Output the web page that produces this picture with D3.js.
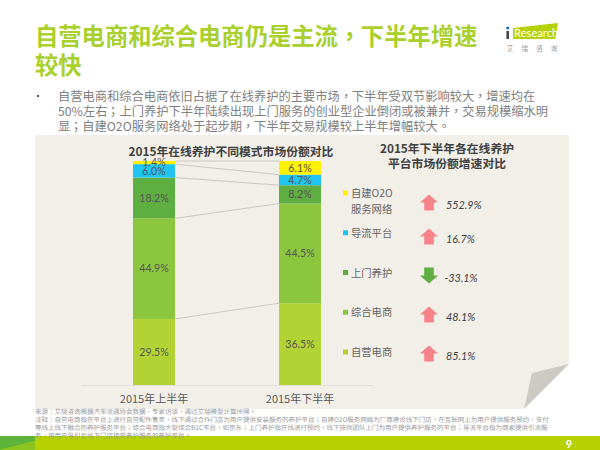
<!DOCTYPE html>
<html><head><meta charset="utf-8">
<script src="https://cdn.jsdelivr.net/npm/d3@7"></script>
<style>
@font-face{font-family:"Punct";font-weight:400;src:local("Noto Sans CJK TC"),local("Noto Sans CJK TC Regular");unicode-range:U+FF0C,U+FF1B,U+3001,U+3002,U+FF1A}
@font-face{font-family:"Punct";font-weight:700;src:local("Noto Sans CJK TC Bold");unicode-range:U+FF0C,U+FF1B,U+3001,U+3002,U+FF1A}
html,body{margin:0;padding:0;background:#fff;overflow:hidden}
svg{display:block}
text{font-family:"Punct","Noto Sans CJK SC","Noto Sans",sans-serif}
.num{font-family:Lato,"Noto Sans CJK SC",sans-serif}
.note{text-rendering:geometricPrecision}
</style></head><body>
<svg id="c" width="600" height="450"></svg>
<script>
const periods = ["2015年上半年","2015年下半年"];
const seriesNames = ["自营电商","综合电商","上门养护","导流平台","自建O2O"];
const h1Values = [29.5,44.9,18.2,6.0,1.4];
const h2Values = [36.5,44.5,8.2,4.7,6.1];
const seriesColors = ["#b3d335","#8cc63f","#5fae42","#1fc5f0","#fff200"];
const legendLines = [["自营电商"],["综合电商"],["上门养护"],["导流平台"],["自建O2O","服务网络"]];
const growth = [85.1,48.1,-33.1,16.7,552.9];
const titleLines = ["自营电商和综合电商仍是主流，下半年增速","较快"];
const bodyLines = ["自营电商和综合电商依旧占据了在线养护的主要市场，下半年受双节影响较大，增速均在",
"50%左右；上门养护下半年陆续出现上门服务的创业型企业倒闭或被兼并，交易规模缩水明",
"显；自建O2O服务网络处于起步期，下半年交易规模较上半年增幅较大。"];
const chartTitle = "2015年在线养护不同模式市场份额对比";
const sideTitle = ["2015年下半年各在线养护","平台市场份额增速对比"];
const noteLines = ["来源：艾瑞咨询根据汽车流通协会数据、专家访谈，通过艾瑞模型计算所得。",
"注释：自营电商指在平台上进行自营配件售卖，线下通过合作门店为用户提供安装服务的养护平台；自建O2O服务网络为厂商建设线下门店，在互联网上为用户提供服务预约、支付",
"等线上线下融合的养护服务平台；综合电商指大型综合B2C平台，如京东；上门养护指在线进行预约，线下技师团队上门为用户提供养护服务的平台；导流平台指为商家提供引流服",
"务，将用户导引至线下门店接受养护服务的养护平台。"];

const svg = d3.select("#c");
const lime = "#b5d200";

// footer
svg.append("rect").attr("x",0).attr("y",436).attr("width",600).attr("height",14).attr("fill",lime);
svg.append("path").attr("d","M0 436L35 436L35 441L0 450Z").attr("fill","#5db43a");
svg.append("path").attr("d","M0 450L35 441L35 450Z").attr("fill","#8cc520");
svg.append("text").attr("x",569).attr("y",447.5).attr("text-anchor","middle").attr("font-size",11).attr("font-weight",700).attr("fill","#fff").attr("class","num").text("9");

// panel with folded corner
svg.append("path").attr("d","M35 135H569V364L524 409H35Z").attr("fill","#f2efe9");
svg.append("path").attr("d","M569 364L532 373L524 409Z").attr("fill","#cdcac3");

// heading
svg.selectAll(".ttl").data(titleLines).join("text").attr("class","ttl")
  .attr("x",35).attr("y",(d,i)=>45+i*28.5).attr("font-size",23.3).attr("font-weight",700).attr("fill","#a9d02c").text(d=>d);

// logo
svg.append("path").attr("d","M513 28L558 23L555 39L513 39Z").attr("fill","#b5d200");
svg.append("rect").attr("x",506.5).attr("y",31).attr("width",2.4).attr("height",8).attr("fill","#3a3a3a");
svg.append("circle").attr("cx",507.7).attr("cy",28).attr("r",1.6).attr("fill","#1f6fb5");
svg.append("text").attr("x",514).attr("y",37).attr("font-size",11.2).attr("fill","#fff").style("font-family","Lato,sans-serif").text("Research");
["艾","瑞","咨","询"].forEach((c,i)=>svg.append("text").attr("x",510+i*14.7).attr("y",51).attr("text-anchor","middle").attr("font-size",6.5).attr("fill","#999").text(c));

// body
svg.append("circle").attr("cx",38).attr("cy",96).attr("r",1.3).attr("fill","#666");
svg.selectAll(".body").data(bodyLines).join("text").attr("class","body")
  .attr("x",58).attr("y",(d,i)=>100.5+i*15).attr("font-size",12.25).attr("fill","#808080").text(d=>d);

// stacked bars
const x = d3.scaleBand().domain(periods).range([81,373]).paddingInner(0.712).paddingOuter(0.356);
const y = d3.scaleLinear().domain([0,100]).range([385,161]);
const rows = periods.map((p,i)=>{
  const r={period:p};
  seriesNames.forEach((s,j)=>r[s]=(i?h2Values:h1Values)[j]);
  return r;
});
const stacked = d3.stack().keys(seriesNames)(rows);

// connectors
const conn = d3.line().x(d=>d[0]).y(d=>d[1]);
stacked.forEach(s=>{
  svg.append("path").attr("fill","none").attr("stroke","#c9c8c4").attr("stroke-width",1)
    .attr("d",conn([[x(periods[0])+x.bandwidth(),y(s[0][1])],[x(periods[1]),y(s[1][1])]]));
});
stacked.forEach((s,j)=>{
  const g=svg.append("g");
  g.selectAll("rect").data(s).join("rect")
    .attr("x",d=>x(d.data.period)).attr("width",x.bandwidth())
    .attr("y",d=>y(d[1])).attr("height",d=>y(d[0])-y(d[1])).attr("fill",seriesColors[j]);
});
stacked.forEach(s=>{
  svg.append("g").selectAll("text").data(s).join("text").attr("class","num")
    .attr("x",d=>x(d.data.period)+x.bandwidth()/2)
    .attr("y",d=>(y(d[0])+y(d[1]))/2+3.8)
    .attr("text-anchor","middle").attr("font-size",10.6).attr("fill","#555")
    .text(d=>(d[1]-d[0]).toFixed(1)+"%");
});

// axis
const ax = svg.append("g").attr("transform","translate(0,385)").call(d3.axisBottom(x).tickSize(0).tickPadding(10));
ax.select(".domain").attr("stroke","#e0dfda");
ax.selectAll("text").attr("font-size",11).attr("fill","#595959").style("font-family",'"Noto Sans CJK SC",sans-serif');

// titles
svg.append("text").attr("x",231).attr("y",155.5).attr("text-anchor","middle").attr("font-size",11.8).attr("font-weight",700).attr("fill","#404040").text(chartTitle);
svg.selectAll(".st").data(sideTitle).join("text").attr("class","st").attr("x",447).attr("y",(d,i)=>152.5+i*15.5)
  .attr("text-anchor","middle").attr("font-size",11.8).attr("font-weight",700).attr("fill","#404040").text(d=>d);

// legend + growth
const rowY = d3.scalePoint().domain(seriesNames).range([352,193]);
const arrowY = d3.scalePoint().domain(seriesNames.slice(0,4)).range([353.5,236.5]);
const arrowCenter = s => s==="自建O2O" ? 202.5 : arrowY(s);
seriesNames.forEach((s,i)=>{
  const ry=rowY(s), ay=arrowCenter(s), v=growth[i], up=v>=0;
  svg.append("rect").attr("x",343).attr("y",ry-2.5).attr("width",5).attr("height",5).attr("fill",seriesColors[i]);
  legendLines[i].forEach((t,k)=>svg.append("text").attr("x",351).attr("y",ry+4+k*16).attr("font-size",10.3).attr("fill","#636363").text(t));
  const sgn=up?1:-1, hh=8;
  const area=d3.line()([[429,ay-sgn*hh],[438,ay],[433.8,ay],[433.8,ay+sgn*hh],[424.2,ay+sgn*hh],[424.2,ay],[420,ay]]);
  svg.append("path").attr("d",area+"Z").attr("fill",up?"#f6838a":"#5fae42");
  svg.append("text").attr("class","num").attr("x",up?446:444.5).attr("y",ay+(i===4?6.5:6)).attr("font-size",10.8).attr("font-style","italic").attr("fill","#404040")
    .text(v.toFixed(1)+"%");
});

// notes
svg.selectAll(".note").data(noteLines).join("text").attr("class","note")
  .attr("x",35).attr("y",(d,i)=>413.5+i*8.2).attr("font-size",6.5).attr("fill","#9a9a9a").text(d=>d);
</script>
</body></html>
